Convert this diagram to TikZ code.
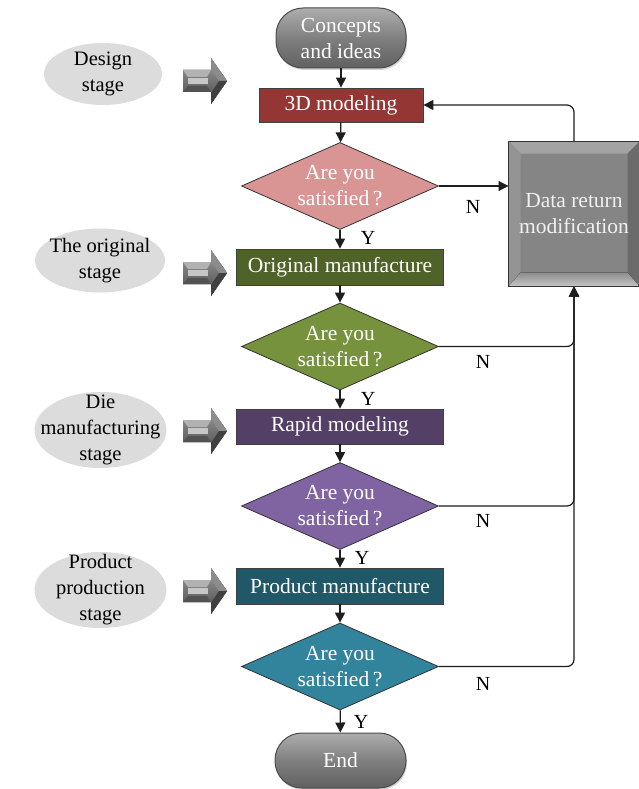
\documentclass[tikz,border=0pt]{standalone}
\usepackage{fontspec}
\setmainfont{Liberation Serif}
\usetikzlibrary{shapes.geometric,arrows.meta,calc,shadows}

\definecolor{redbox}{HTML}{943634}
\definecolor{reddia}{HTML}{D99594}
\definecolor{greenbox}{HTML}{4F6228}
\definecolor{greendia}{HTML}{76923C}
\definecolor{purplebox}{HTML}{544067}
\definecolor{purpledia}{HTML}{8064A2}
\definecolor{tealbox}{HTML}{215867}
\definecolor{tealdia}{HTML}{31849B}
\definecolor{stagefill}{HTML}{DCDCDC}
\definecolor{linecol}{HTML}{1E1E1E}

\tikzset{
  txt/.style={font=\fontsize{21.5}{26}\selectfont, align=center},
  procbox/.style={txt, draw=black!75, line width=0.8pt, text=white, inner sep=0pt},
  decision/.style={diamond, draw=black!80, line width=0.8pt, inner sep=0pt,
                   minimum width=197pt, minimum height=87pt},
  dtext/.style={txt, text=white, inner sep=0pt},
  pill/.style={txt, rounded corners=27pt, draw=black!70, line width=1pt, text=white,
               top color=black!32, bottom color=black!62, middle color=black!50,
               drop shadow={shadow xshift=1pt, shadow yshift=-2pt, opacity=0.35}},
  stagetext/.style={font=\fontsize{20.5}{26}\selectfont, align=center, text=black, inner sep=0pt},
  flow/.style={draw=linecol, line width=1.2pt,
               -{Triangle[length=10pt,width=10pt]}},
  yn/.style={font=\fontsize{20}{24}\selectfont, inner sep=0pt},
}

\newcommand{\stagearrow}[2]{%
  % block arrow with a bevelled, shaded look
  \begin{scope}[shift={(#1,#2)}]
    \fill[top color=black!38, bottom color=black!72]
      (-22,-11) -- (6,-11) -- (6,-23) -- (22,0) -- (6,23) -- (6,11) -- (-22,11) -- cycle;
    \fill[black!30] (-22,-11) -- (6,-11) -- (2,-4) -- (-17,-4) -- cycle;
    \fill[black!22] (-17,-3) -- (3,-3) -- (3,3) -- (-17,3) -- cycle;
    \fill[black!68] (-22,11) -- (6,11) -- (2,5) -- (-17,5) -- cycle;
    \fill[black!45] (6,-23) -- (22,0) -- (14,0) -- (6,-12) -- cycle;
    \fill[black!75] (6,23) -- (22,0) -- (14,0) -- (6,12) -- cycle;
  \end{scope}}

\begin{document}
\begin{tikzpicture}[x=1pt,y=-1pt]
\useasboundingbox (0,0) rectangle (639,789);
\fill[white] (0,0) rectangle (639,789);

% ---------- stage labels on the left ----------
\fill[stagefill] (103,74) ellipse [x radius=59, y radius=31];
\fill[stagefill] (100,260.5) ellipse [x radius=65, y radius=32];
\fill[stagefill] (100.5,430) ellipse [x radius=66, y radius=38];
\fill[stagefill] (100.5,590) ellipse [x radius=66, y radius=38];
\node[stagetext] (s1) at (103,74) {Design\\stage};
\node[stagetext] (s2) at (100,260.5) {The original\\stage};
\node[stagetext] (s3) at (100.5,430) {Die\\manufacturing\\stage};
\node[stagetext] (s4) at (100.5,590) {Product\\production\\stage};

\stagearrow{205}{81}
\stagearrow{205}{273}
\stagearrow{205}{431}
\stagearrow{205}{591}

% ---------- main flow ----------
\node[pill, minimum width=130pt, minimum height=60pt] (start) at (341,38) {Concepts\\and ideas};
\node[procbox, fill=redbox, minimum width=164pt, minimum height=34pt] (m3d) at (341,105) {3D modeling};

\node[decision, fill=reddia] (d1) at (340,186) {};
\node[dtext] (d1t) at (d1) {Are you\\satisfied\,?};

\node[procbox, fill=greenbox, minimum width=207pt, minimum height=36pt] (orig) at (340,267) {Original manufacture};

\node[decision, fill=greendia] (d2) at (340,346.5) {};
\node[dtext] (d2t) at (d2) {Are you\\satisfied\,?};

\node[procbox, fill=purplebox, minimum width=207pt, minimum height=35pt] (rapid) at (340,426.5) {Rapid modeling};

\node[decision, fill=purpledia] (d3) at (340,506) {};
\node[dtext] (d3t) at (d3) {Are you\\satisfied\,?};

\node[procbox, fill=tealbox, minimum width=207pt, minimum height=36pt] (prod) at (340,586) {Product manufacture};

\node[decision, fill=tealdia] (d4) at (340,666.5) {};
\node[dtext] (d4t) at (d4) {Are you\\satisfied\,?};

\node[pill, minimum width=131pt, minimum height=55pt] (end) at (340.5,760.5) {End};

% ---------- data return box with bevel ----------
\node[draw=black!80, line width=1pt, fill=black!48, minimum width=130pt, minimum height=144pt,
      inner sep=0pt] (data) at (574,214) {};
\fill[black!36] (data.north west) -- (data.north east) -- ($(data.north east)+(-12,12)$) -- ($(data.north west)+(12,12)$) -- cycle;
\fill[black!42] (data.north west) -- ($(data.north west)+(12,12)$) -- ($(data.south west)+(12,-14)$) -- (data.south west) -- cycle;
\fill[black!58] (data.north east) -- ($(data.north east)+(-12,12)$) -- ($(data.south east)+(-12,-14)$) -- (data.south east) -- cycle;
\fill[top color=black!45, bottom color=black!22] ($(data.south west)+(12,-14)$) -- ($(data.south east)+(-12,-14)$) -- (data.south east) -- (data.south west) -- cycle;
\draw[black!80, line width=1pt] (data.north west) rectangle (data.south east);
\node[txt, text=white!94!black] (datat) at (data) {Data return\\modification};

% ---------- connectors ----------
\draw[flow] (start) -- (m3d);
\draw[flow] (m3d) -- (d1);
\draw[flow] (d1) -- (orig);
\draw[flow] (orig) -- (d2);
\draw[flow] (d2) -- (rapid);
\draw[flow] (rapid) -- (d3);
\draw[flow] (d3) -- (prod);
\draw[flow] (prod) -- (d4);
\draw[flow] (d4) -- (end);

\draw[flow] (d1.east) -- (d1.east -| data.west);
\draw[flow, rounded corners=7pt] (data.north) |- (m3d.east);
\draw[flow, rounded corners=7pt] (d2.east) -| (data.south);
\draw[flow, rounded corners=7pt] (d3.east) -| (data.south);
\draw[flow, rounded corners=7pt] (d4.east) -| (data.south);

% ---------- Y / N labels ----------
\node[yn] (n1) at (473,207) {N};
\node[yn] (n2) at (483,362) {N};
\node[yn] (n3) at (483,521) {N};
\node[yn] (n4) at (483,684) {N};
\node[yn] (y1) at (368,238) {Y};
\node[yn] (y2) at (368,399) {Y};
\node[yn] (y3) at (362,558) {Y};
\node[yn] (y4) at (361,722) {Y};
\end{tikzpicture}
\end{document}
